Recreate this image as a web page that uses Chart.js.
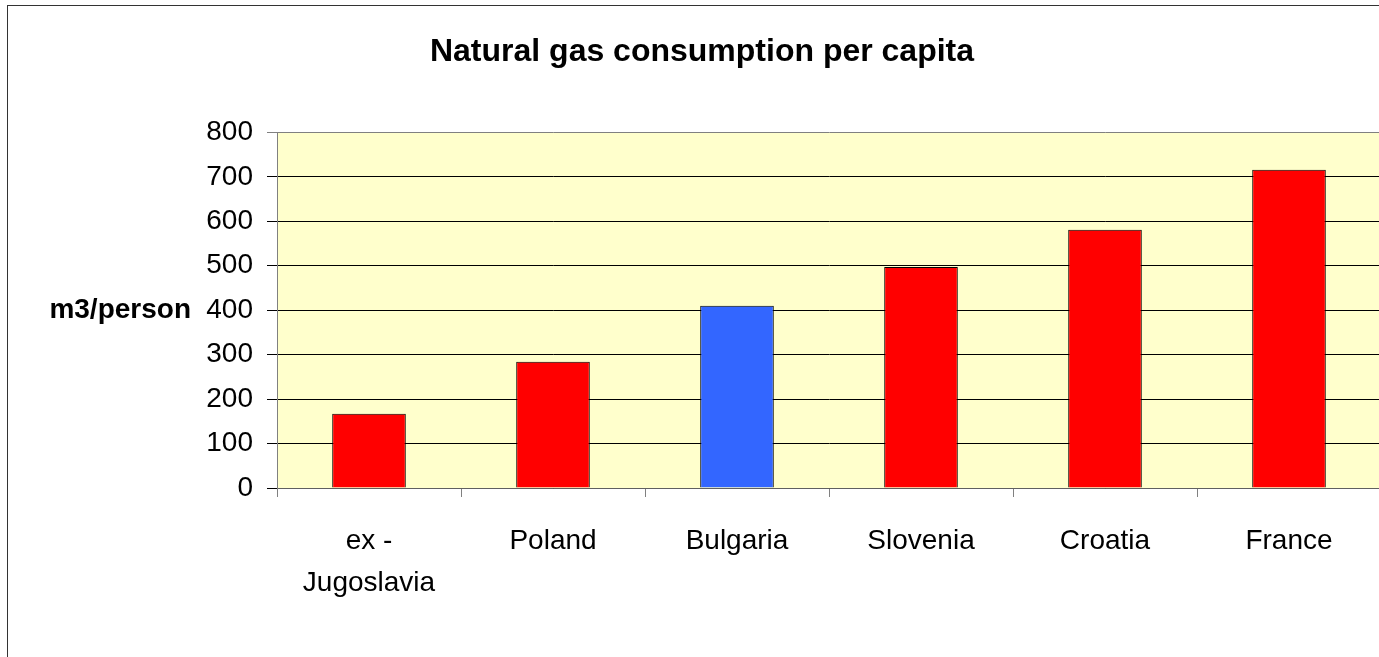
<!DOCTYPE html>
<html>
<head>
<meta charset="utf-8">
<script src="https://cdn.jsdelivr.net/npm/chart.js@4/dist/chart.umd.min.js"></script>
<style>
  html, body { margin: 0; padding: 0; background: #fff; overflow: hidden; }
  #wrap { position: relative; width: 1379px; height: 657px; overflow: hidden; }
  #frame { position: absolute; left: 7px; top: 5px; width: 1390px; height: 700px; border: 1px solid #333; }
  #chart { position: absolute; left: 0; top: 0; }
</style>
</head>
<body>
<div id="wrap">
  <div id="frame"></div>
  <canvas id="chart" width="1404" height="657"></canvas>
</div>
<script>
const countries = [['ex -', 'Jugoslavia'], 'Poland', 'Bulgaria', 'Slovenia', 'Croatia', 'France'];
const gasPerCapita = [167, 284, 410, 497, 581, 716];
const barColors = ['#FF0000', '#FF0000', '#3366FF', '#FF0000', '#FF0000', '#FF0000'];
const yTicks = [0, 100, 200, 300, 400, 500, 600, 700, 800];

const fontFamily = 'Arial, "Liberation Sans", sans-serif';

// yellow plot background + horizontal y-axis title
const plotExtras = {
    id: 'plotExtras',
    beforeDraw: (chart) => {
        const { ctx, chartArea } = chart;
        ctx.save();
        ctx.fillStyle = '#FFFFCC';
        ctx.fillRect(chartArea.left, chartArea.top, chartArea.right - chartArea.left, chartArea.bottom - chartArea.top);
        ctx.restore();
    },
    afterDraw: (chart) => {
        const { ctx, chartArea } = chart;
        ctx.save();
        ctx.font = 'bold 28px ' + fontFamily;
        ctx.fillStyle = '#000';
        ctx.textAlign = 'right';
        ctx.textBaseline = 'middle';
        ctx.fillText('m3/person', 191, (chartArea.top + chartArea.bottom) / 2);
        ctx.restore();
    }
};

new Chart(document.getElementById('chart'), {
    type: 'bar',
    data: {
        labels: countries,
        datasets: [{
            data: gasPerCapita,
            backgroundColor: barColors,
            borderColor: '#000',
            borderWidth: 1,
            barPercentage: 0.4,
            categoryPercentage: 1
        }]
    },
    options: {
        responsive: false,
        animation: false,
        layout: { padding: 0 },
        plugins: {
            legend: { display: false },
            tooltip: { enabled: false },
            title: {
                display: true,
                text: 'Natural gas consumption per capita',
                color: '#000',
                font: { family: fontFamily, size: 32, weight: 'bold', lineHeight: 1.2 },
                padding: { top: 33, bottom: 61 }
            }
        },
        scales: {
            x: {
                afterFit: (scale) => { scale.height = 657 - 488; },
                grid: { drawOnChartArea: false, drawTicks: true, tickLength: 9, color: '#808080' },
                border: { color: '#606060', width: 1 },
                ticks: {
                    color: '#000',
                    padding: 23,
                    maxRotation: 0,
                    font: { family: fontFamily, size: 28, lineHeight: 1.5 }
                }
            },
            y: {
                min: 0,
                max: 800,
                afterFit: (scale) => { scale.width = 277; },
                afterBuildTicks: (scale) => { scale.ticks = yTicks.map(v => ({ value: v })); },
                grid: {
                    color: (ctx) => (ctx.tick && ctx.tick.value === 800 ? '#808080' : '#000'),
                    tickLength: 10
                },
                border: { color: '#808080', width: 1 },
                ticks: {
                    color: '#000',
                    padding: 14,
                    font: { family: fontFamily, size: 28 }
                }
            },
            // empty right axis, only keeps the plot area off the frame's right side
            spacer: {
                position: 'right',
                min: 0,
                max: 800,
                afterFit: (scale) => { scale.width = 23; },
                grid: { display: false },
                border: { display: false },
                ticks: { display: false }
            }
        }
    },
    plugins: [plotExtras]
});
</script>
</body>
</html>
